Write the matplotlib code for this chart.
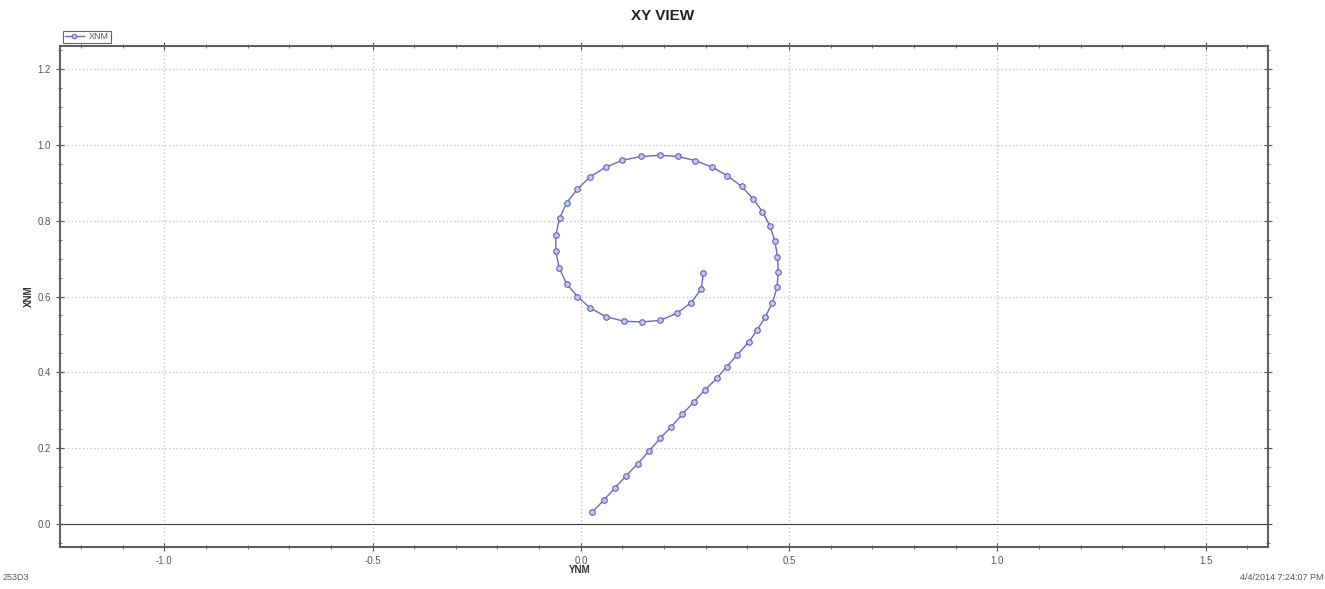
import matplotlib
matplotlib.use("Agg")
import matplotlib.pyplot as plt
from matplotlib.ticker import MultipleLocator

plt.rcParams['font.family'] = ['Liberation Sans', 'DejaVu Sans']

# path (YNM on x, XNM on y), from the outer end to the inner end
ynm = [0.028, 0.055, 0.082, 0.109, 0.137, 0.164, 0.190, 0.217, 0.244, 0.271,
       0.297, 0.326, 0.350, 0.376, 0.403, 0.424, 0.443, 0.460, 0.471, 0.474,
       0.472, 0.466, 0.454, 0.436, 0.414, 0.386, 0.352, 0.315, 0.275, 0.233,
       0.190, 0.145, 0.100, 0.060, 0.022, -0.008, -0.034, -0.051, -0.060, -0.060,
       -0.052, -0.034, -0.008, 0.022, 0.060, 0.103, 0.146, 0.190, 0.231, 0.265,
       0.289, 0.294]
xnm = [0.033, 0.063, 0.096, 0.128, 0.160, 0.193, 0.226, 0.257, 0.290, 0.322,
       0.353, 0.384, 0.415, 0.447, 0.480, 0.513, 0.547, 0.584, 0.624, 0.665,
       0.705, 0.745, 0.786, 0.823, 0.857, 0.890, 0.918, 0.941, 0.958, 0.969,
       0.972, 0.969, 0.959, 0.941, 0.915, 0.883, 0.847, 0.806, 0.762, 0.719,
       0.676, 0.633, 0.600, 0.570, 0.547, 0.535, 0.533, 0.537, 0.556, 0.584,
       0.620, 0.661]

xlim = (-1.25, 1.65)
ylim = (-0.06, 1.26)

fig = plt.figure(figsize=(13.25, 5.89), dpi=100)
ax = fig.add_axes([0.0453, 0.0713, 0.9119, 0.8506])

ax.plot(ynm, xnm, color="#6868c8", lw=1.0, marker="o", ms=4.0,
        mfc="#c8c8ee", mec="#6060b8", mew=0.8, label="XNM", zorder=3)
ax.axhline(0, color="#404040", lw=0.8, zorder=2)

ax.set_xlim(*xlim)
ax.set_ylim(*ylim)
ax.xaxis.set_major_locator(MultipleLocator(0.5))
ax.xaxis.set_minor_locator(MultipleLocator(0.1))
ax.yaxis.set_major_locator(MultipleLocator(0.2))
ax.yaxis.set_minor_locator(MultipleLocator(0.05))
ax.xaxis.set_major_formatter(lambda v, p: "%.1f" % v)
ax.yaxis.set_major_formatter(lambda v, p: "%.1f" % v)
ax.grid(True, which="major", ls=(0, (1, 2)), color="#bdbdbd", lw=0.9)

ax.tick_params(which="both", direction="inout", top=True, right=True,
               colors="#555555", labelsize=7, labelcolor="#555555")
ax.tick_params(which="major", length=6, width=0.8)
ax.tick_params(which="minor", length=3, width=0.6)
ax.tick_params(labeltop=False, labelright=False)
for s in ax.spines.values():
    s.set_color("#606060")
    s.set_linewidth(1.5)

ax.set_xlabel("YNM", fontsize=7, fontweight="bold", color="#333333")
ax.xaxis.set_label_coords(0.43, -0.035)
ax.set_ylabel("XNM", fontsize=7, fontweight="bold", color="#333333")
ax.yaxis.set_label_coords(-0.022, 0.5)

fig.suptitle("XY VIEW", x=0.5, y=0.985, fontsize=11, fontweight="bold",
             color="#222222")

leg = ax.legend(loc="lower left", bbox_to_anchor=(0.0, 1.0), fontsize=6.5,
                frameon=True, fancybox=False, borderpad=0.2, handlelength=2.2,
                handletextpad=0.5, borderaxespad=0.3, markerscale=0.8)
leg.get_frame().set_edgecolor("#444444")
leg.get_frame().set_linewidth(0.8)
for t in leg.get_texts():
    t.set_color("#555555")

fig.text(0.002, 0.012, "253D3", fontsize=6.5, color="#555555", ha="left", va="bottom")
fig.text(0.999, 0.012, "4/4/2014 7:24:07 PM", fontsize=6.5, color="#555555",
         ha="right", va="bottom")

fig.savefig("out.png", dpi=100)
